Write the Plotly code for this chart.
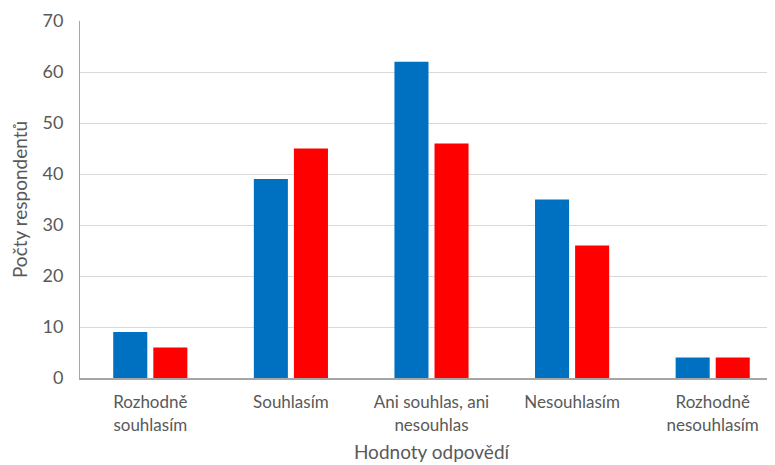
import plotly.graph_objects as go

categories = ["Rozhodně<br>souhlasím", "Souhlasím", "Ani souhlas, ani<br>nesouhlas", "Nesouhlasím", "Rozhodně<br>nesouhlasím"]
series_blue = [9, 39, 62, 35, 4]
series_red = [6, 45, 46, 26, 4]
y_ticks = [0, 10, 20, 30, 40, 50, 60, 70]

FONT = "Lato, 'Open Sans', sans-serif"
TXT = "#595959"

fig = go.Figure()
fig.add_trace(go.Bar(x=list(range(len(categories))), y=series_blue, marker=dict(color="#0070C0", line=dict(width=0)), name="A"))
fig.add_trace(go.Bar(x=list(range(len(categories))), y=series_red, marker=dict(color="#FF0000", line=dict(width=0)), name="B"))

fig.update_layout(
    width=775, height=465,
    margin=dict(l=72, r=0, t=13, b=95),
    paper_bgcolor="white", plot_bgcolor="white",
    barmode="group", bargap=0.43, bargroupgap=0.15,
    showlegend=False,
    font=dict(family=FONT, color=TXT),
)
fig.update_xaxes(
    range=[-0.5, 4.5],
    automargin=False,
    tickmode="array", tickvals=list(range(len(categories))), ticktext=categories,
    tickfont=dict(size=17, color=TXT),
    showline=True, linecolor="#a6a6a6", linewidth=2,
    showgrid=False, ticks="",
    ticklabelstandoff=8,
    title=dict(text="Hodnoty odpovědí", font=dict(size=19, color=TXT), standoff=12),
)
fig.update_yaxes(
    range=[0, 70],
    automargin=False,
    tickmode="array", tickvals=y_ticks,
    tickfont=dict(size=18, color=TXT),
    showline=True, linecolor="#a6a6a6", linewidth=1,
    showgrid=True, gridcolor="#d9d9d9", gridwidth=1,
    zeroline=False, ticks="",
    ticklabelstandoff=12,
    title=dict(text="Počty respondentů", font=dict(size=19, color=TXT), standoff=12),
)
fig.write_html("out.html")
